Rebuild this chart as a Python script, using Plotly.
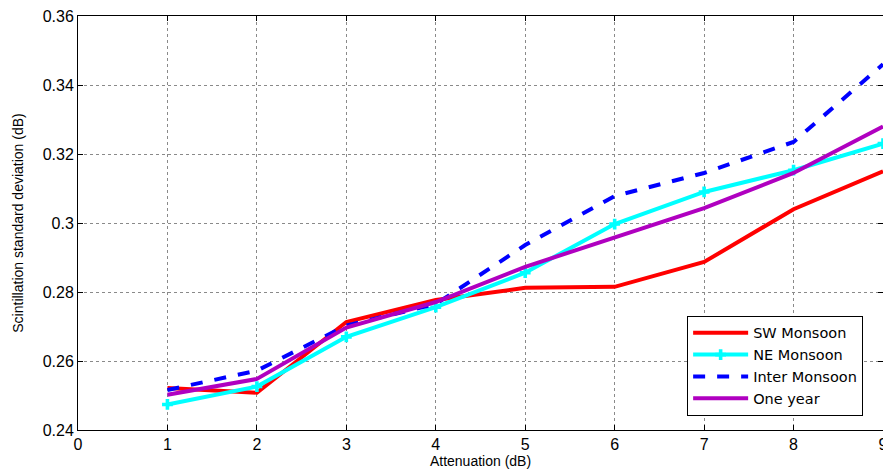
import plotly.graph_objects as go

attenuation = [1, 2, 3, 4, 5, 6, 7, 8, 9]
sw_monsoon = [0.2522, 0.2508, 0.2713, 0.2777, 0.2812, 0.2815, 0.2887, 0.3040, 0.3150]
ne_monsoon = [0.2474, 0.2526, 0.2670, 0.2756, 0.2856, 0.2997, 0.3090, 0.3153, 0.3230]
inter_monsoon = [0.2516, 0.2572, 0.2703, 0.2765, 0.2936, 0.3078, 0.3145, 0.3235, 0.3460]
one_year = [0.2502, 0.2548, 0.2697, 0.2771, 0.2873, 0.2959, 0.3043, 0.3145, 0.3280]

x_ticks = [0, 1, 2, 3, 4, 5, 6, 7, 8, 9]
y_ticks = [0.24, 0.26, 0.28, 0.30, 0.32, 0.34, 0.36]
y_ticktext = ["0.24", "0.26", "0.28", "0.3", "0.32", "0.34", "0.36"]

FONT = "Liberation Sans, Arial"

fig = go.Figure()
fig.add_trace(go.Scatter(x=attenuation, y=sw_monsoon, name="SW Monsoon", mode="lines",
                         line=dict(color="#ff0000", width=4)))
fig.add_trace(go.Scatter(x=attenuation, y=ne_monsoon, name="NE Monsoon", mode="lines+markers",
                         line=dict(color="#00ffff", width=4),
                         marker=dict(symbol="cross", size=9, color="#00ffff")))
fig.add_trace(go.Scatter(x=attenuation, y=inter_monsoon, name="Inter Monsoon", mode="lines",
                         line=dict(color="#0000ff", width=4, dash="dash")))
fig.add_trace(go.Scatter(x=attenuation, y=one_year, name="One year", mode="lines",
                         line=dict(color="#b000c0", width=4)))

axis_common = dict(
    showline=True, linecolor="black", linewidth=1, mirror="ticks",
    ticks="inside", ticklen=5, tickcolor="black",
    showgrid=True, gridcolor="#8a8a8a", gridwidth=1, griddash="dot",
    zeroline=False, automargin=False, ticklabeloverflow="allow",
    tickfont=dict(family=FONT, size=16, color="black"),
)

fig.update_xaxes(range=[0, 9], tickvals=x_ticks, **axis_common,
                 title=dict(text="Attenuation (dB)", standoff=2,
                            font=dict(family=FONT, size=14, color="black")))
fig.update_yaxes(range=[0.24, 0.36], tickvals=y_ticks, ticktext=y_ticktext, **axis_common,
                 title=dict(text="Scintillation standard deviation (dB)",
                            font=dict(family=FONT, size=14, color="black")))

fig.update_layout(
    width=883, height=474,
    margin=dict(l=78, r=0, t=16, b=44),
    plot_bgcolor="white", paper_bgcolor="white",
    font=dict(family=FONT, size=14, color="black"),
    legend=dict(x=0.866, y=0.155, xanchor="center", yanchor="middle",
                bgcolor="white", bordercolor="black", borderwidth=1,
                itemwidth=55, tracegroupgap=0,
                font=dict(family="DejaVu Sans", size=14.5, color="black")),
    showlegend=True,
)

# remove the default page margin so the figure sits at the window's top-left corner
fig.write_html("out.html", config={"displayModeBar": False},
               post_script="document.body.style.margin='0';")
